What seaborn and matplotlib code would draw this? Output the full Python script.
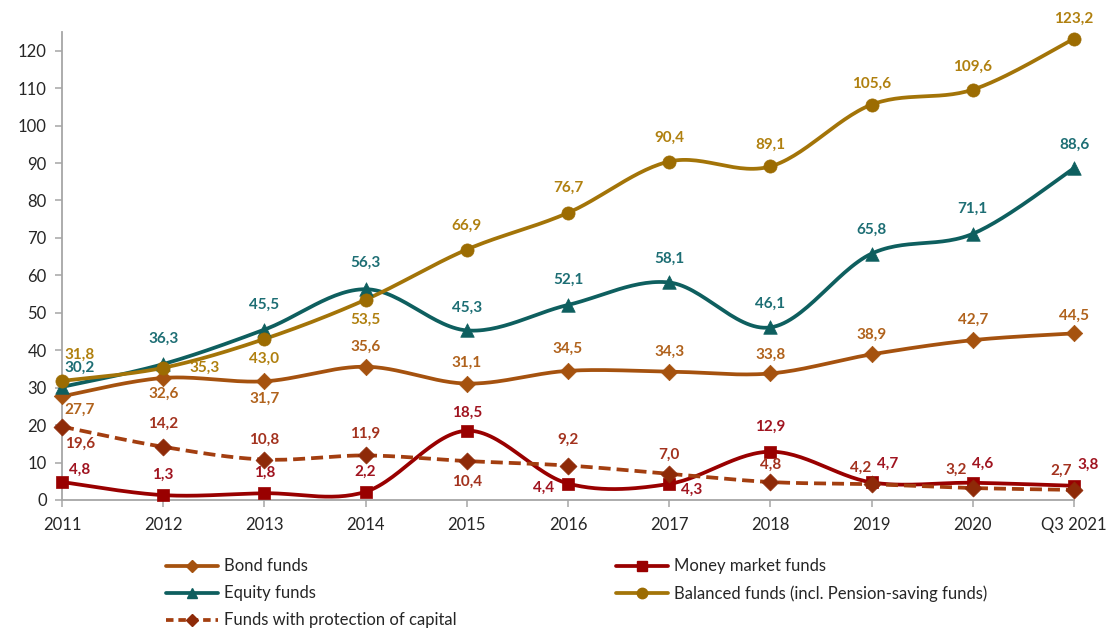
import numpy as np
import pandas as pd
import matplotlib
matplotlib.use("Agg")
import matplotlib.pyplot as plt
import seaborn as sns
from matplotlib.lines import Line2D

# ---------------- data ----------------
categories = ["2011", "2012", "2013", "2014", "2015", "2016", "2017", "2018", "2019", "2020", "Q3 2021"]
bond_funds = [27.7, 32.6, 31.7, 35.6, 31.1, 34.5, 34.3, 33.8, 38.9, 42.7, 44.5]
money_market_funds = [4.8, 1.3, 1.8, 2.2, 18.5, 4.4, 4.3, 12.9, 4.7, 4.6, 3.8]
equity_funds = [30.2, 36.3, 45.5, 56.3, 45.3, 52.1, 58.1, 46.1, 65.8, 71.1, 88.6]
balanced_funds = [31.8, 35.3, 43.0, 53.5, 66.9, 76.7, 90.4, 89.1, 105.6, 109.6, 123.2]
protection_funds = [19.6, 14.2, 10.8, 11.9, 10.4, 9.2, 7.0, 4.8, 4.2, 3.2, 2.7]
y_ticks = [0, 10, 20, 30, 40, 50, 60, 70, 80, 90, 100, 110, 120]

# ---------------- styles / label placement (pixels) ----------------
series = [
    dict(name="Bond funds", values=bond_funds, color="#A5520F", mcolor="#A5520F", lcolor="#B0621C",
         marker="D", ms=70, dashed=False,
         offs=[(18, -14), (0, -16), (0, -17), (0, 20), (0, 21), (0, 22), (0, 20), (0, 19), (0, 20), (0, 20), (0, 18)]),
    dict(name="Money market funds", values=money_market_funds, color="#990000", mcolor="#990000", lcolor="#A01420",
         marker="s", ms=85, dashed=False,
         offs=[(18, 12), (0, 20), (0, 20), (0, 20), (0, 18), (-24, -4), (22, -6), (0, 25), (16, 19), (10, 19), (14, 21)]),
    dict(name="Equity funds", values=equity_funds, color="#0E5F5F", mcolor="#0E5F5F", lcolor="#1D6E74",
         marker="^", ms=95, dashed=False,
         offs=[(18, 19), (0, 25), (0, 25), (0, 26), (0, 23), (0, 25), (0, 24), (0, 24), (0, 24), (0, 25), (0, 23)]),
    dict(name="Balanced funds (incl. Pension-saving funds)", values=balanced_funds, color="#A37408", mcolor="#9C6C02",
         lcolor="#B0800F", marker="o", ms=90, dashed=False,
         offs=[(18, 26), (41, 0), (0, -20), (0, -20), (0, 24), (0, 25), (0, 24), (0, 22), (0, 21), (0, 23), (0, 20)]),
    dict(name="Funds with protection of capital", values=protection_funds, color="#A33E10", mcolor="#8E2A08",
         lcolor="#A3321E", marker="D", ms=75, dashed=True,
         offs=[(18, -17), (0, 23), (0, 20), (0, 22), (0, -21), (0, 26), (0, 19), (0, 17), (-11, 16), (-17, 18), (-13, 19)]),
]


def catmull_rom(y, n=30):
    """Excel-like smoothed line through the data points."""
    y = np.asarray(y, float)
    x = np.arange(len(y), dtype=float)
    P = np.concatenate([[y[0]], y, [y[-1]]])
    X = np.concatenate([[x[0]], x, [x[-1]]])
    xs, ys = [], []
    for i in range(1, len(P) - 2):
        t = np.linspace(0, 1, n, endpoint=False)
        for arr, out in ((X, xs), (P, ys)):
            p0, p1, p2, p3 = arr[i - 1], arr[i], arr[i + 1], arr[i + 2]
            m1 = (p2 - p0) / 2
            m2 = (p3 - p1) / 2
            h00 = 2 * t**3 - 3 * t**2 + 1
            h10 = t**3 - 2 * t**2 + t
            h01 = -2 * t**3 + 3 * t**2
            h11 = t**3 - t**2
            out.extend(h00 * p1 + h10 * m1 + h01 * p2 + h11 * m2)
    xs.append(x[-1]); ys.append(y[-1])
    return np.array(xs), np.array(ys)


sns.set_theme(style="white")
plt.rcParams["font.family"] = ["Lato", "DejaVu Sans"]

fig = plt.figure(figsize=(11.13, 6.30), dpi=100)
ax = fig.add_axes([62 / 1113, 130 / 630, (1074 - 62) / 1113, 468 / 630])

xpos = np.arange(len(categories))
for s in series:
    sx, sy = catmull_rom(s["values"])
    df_line = pd.DataFrame({"x": sx, "y": sy})
    sns.lineplot(data=df_line, x="x", y="y", ax=ax, color=s["color"], lw=2.7,
                 linestyle=(0, (3.2, 1.6)) if s["dashed"] else "-", sort=False, estimator=None,
                 zorder=3)
    df_pts = pd.DataFrame({"x": xpos, "y": s["values"]})
    sns.scatterplot(data=df_pts, x="x", y="y", ax=ax, color=s["mcolor"], marker=s["marker"],
                    s=s["ms"], edgecolor=s["mcolor"], linewidth=0.5, zorder=4, clip_on=False)
    for xi, v, (dx, dy) in zip(xpos, s["values"], s["offs"]):
        ax.annotate(f"{v:.1f}".replace(".", ","), (xi, v), xytext=(dx, dy), textcoords="offset pixels",
                    ha="center", va="center", fontsize=11, fontweight="bold", color=s["lcolor"], zorder=5,
                    annotation_clip=False)

ax.set_xlim(0, len(categories) - 1)
ax.set_ylim(0, 125)
ax.set_xticks(xpos)
ax.set_xticklabels(categories)
ax.set_yticks(y_ticks)
ax.set_xlabel("")
ax.set_ylabel("")
for side in ("top", "right"):
    ax.spines[side].set_visible(False)
for side in ("left", "bottom"):
    ax.spines[side].set_color("#A6A6A6")
    ax.spines[side].set_linewidth(1.3)
ax.tick_params(axis="both", which="major", direction="out", length=5, width=1.1, color="#A6A6A6",
               labelsize=12, labelcolor="#262626", left=True, bottom=True)
ax.tick_params(axis="y", pad=6)
ax.tick_params(axis="x", pad=7)
ax.grid(False)

# legend in two columns
def handle(s):
    return Line2D([0], [0], color=s["color"], lw=2.7, linestyle=(0, (2.0, 1.3)) if s["dashed"] else "-",
                  marker=s["marker"], markersize=7.5 if s["marker"] != "D" else 6.5,
                  markerfacecolor=s["mcolor"], markeredgecolor=s["mcolor"])

col1 = [series[0], series[2], series[4]]
col2 = [series[1], series[3]]
leg_kw = dict(frameon=False, loc="upper left", fontsize=12, handlelength=3.1, handletextpad=0.35,
              labelspacing=0.66, borderpad=0, numpoints=1, labelcolor="#262626")
fig.legend([handle(s) for s in col1], [s["name"] for s in col1],
           bbox_to_anchor=(158 / 1113, 1 - 550 / 630), **leg_kw)
fig.legend([handle(s) for s in col2], [s["name"] for s in col2],
           bbox_to_anchor=(608 / 1113, 1 - 550 / 630), **leg_kw)

fig.savefig("out.png", dpi=100)
